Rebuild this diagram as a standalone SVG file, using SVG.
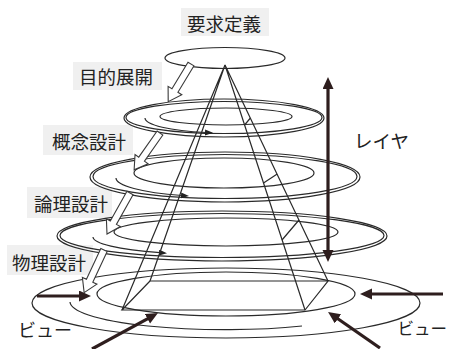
<svg xmlns="http://www.w3.org/2000/svg" width="449" height="349" viewBox="0 0 449 349">
<style>
.bg{fill:#f0f0f0;stroke:none}
.lbl{font-family:"Noto Sans CJK JP","Noto Sans",sans-serif;font-size:18.5px;fill:#222}
.ln{fill:none;stroke:#2a2a2a;stroke-width:1.2}
.hol{fill:#fff;stroke:#3a3a3a;stroke-width:1.1;stroke-linejoin:miter}
.view{fill:none;stroke:#2e1e1e;stroke-width:3.2}
.sp{fill:none;stroke:#2a2a2a;stroke-width:1.2}
</style>
<defs>
<marker id="big" markerUnits="userSpaceOnUse" markerWidth="14" markerHeight="12" refX="1" refY="5.5" orient="auto-start-reverse" viewBox="0 0 14 12">
<path d="M0,0 L12,5.5 L0,11 z" fill="#2e1e1e"/>
</marker>
<marker id="sm" markerUnits="userSpaceOnUse" markerWidth="9" markerHeight="7" refX="1" refY="3" orient="auto" viewBox="0 0 9 7">
<path d="M0,0 L8,3 L0,6 z" fill="#222"/>
</marker>
</defs>
<rect width="449" height="349" fill="#fff"/>

<g id="labels">
<rect class="bg" x="181" y="8" width="88" height="28"/>
<rect class="bg" x="73" y="62" width="89" height="28"/>
<rect class="bg" x="43" y="125" width="90" height="30"/>
<rect class="bg" x="27" y="187" width="85" height="31"/>
<rect class="bg" x="7" y="245" width="86" height="30"/>
</g>

<g id="layer1">
<ellipse class="ln" cx="225" cy="58" rx="60" ry="10.5"/>
</g>
<g id="layer2">
<ellipse class="ln" cx="224" cy="118" rx="100" ry="19"/>
<ellipse class="ln" cx="224" cy="117.5" rx="98" ry="16"/>
<ellipse class="ln" cx="226" cy="116.5" rx="66" ry="8.5"/>
<path class="sp" d="M145,118 A80,15 0 0,0 206,132.5" marker-end="url(#sm)"/>
</g>
<g id="layer3">
<ellipse class="ln" cx="225" cy="177" rx="135" ry="25"/>
<ellipse class="ln" cx="225" cy="176.5" rx="132" ry="22"/>
<ellipse class="ln" cx="224" cy="173" rx="90" ry="15"/>
<path class="sp" d="M116,178 A109,19 0 0,0 182,195.5" marker-end="url(#sm)"/>
</g>
<g id="layer4">
<ellipse class="ln" cx="222" cy="236" rx="165" ry="25"/>
<ellipse class="ln" cx="222" cy="235.5" rx="162" ry="22"/>
<ellipse class="ln" cx="226" cy="232" rx="112" ry="14"/>
<path class="sp" d="M93,237 A132,18 0 0,0 160,252.7" marker-end="url(#sm)"/>
</g>
<g id="layer5">
<ellipse class="ln" cx="226" cy="303" rx="194" ry="35"/>
<ellipse class="ln" cx="226" cy="294" rx="129" ry="22"/>
<path class="sp" d="M70,302 A155,28 0 0,0 302,326"/>
</g>

<g id="pyramid">
<path class="ln" d="M225,65 L122,310 M225,65 L150,281 M225,65 L305,310 M225,65 L328,281"/>
<path class="ln" d="M150,281 L122,310 L305,310 L328,281 Z"/>
<path class="ln" d="M244.6,125 L250.4,118 M263.5,183 L277.2,174 M282,240 L299,220"/>
</g>

<g id="connectors">
<polygon class="hol" points="0,-3.5 31,-3.5 31,-8 44,0 31,8 31,3.5 0,3.5" transform="translate(191,64) rotate(121.2)"/>
<polygon class="hol" points="0,-3.5 32,-3.5 32,-8 45,0 32,8 32,3.5 0,3.5" transform="translate(160,133) rotate(125.1)"/>
<polygon class="hol" points="0,-3.5 34,-3.5 34,-8 47,0 34,8 34,3.5 0,3.5" transform="translate(130,193) rotate(119.3)"/>
<polygon class="hol" points="0,-3.5 34,-3.5 34,-8 47,0 34,8 34,3.5 0,3.5" transform="translate(104,250) rotate(115)"/>
<line class="view" x1="328" y1="88" x2="328" y2="251" marker-start="url(#big)" marker-end="url(#big)"/>
<line class="view" x1="37" y1="296" x2="80" y2="296" marker-end="url(#big)"/>
<line class="view" x1="443" y1="294" x2="371" y2="294" marker-end="url(#big)"/>
<line class="view" x1="92" y1="349" x2="148.3" y2="318.3" marker-end="url(#big)"/>
<line class="view" x1="380" y1="348" x2="337.1" y2="318.3" marker-end="url(#big)"/>
</g>

<g id="texts">
<text class="lbl" x="187" y="30.5">要求定義</text>
<text class="lbl" x="79" y="84">目的展開</text>
<text class="lbl" x="52" y="149">概念設計</text>
<text class="lbl" x="34" y="211">論理設計</text>
<text class="lbl" x="12" y="270">物理設計</text>
<text class="lbl" x="354" y="148">レイヤ</text>
<text class="lbl" x="18" y="337" style="font-size:18px">ビュー</text>
<text class="lbl" x="447" y="335" text-anchor="end" style="font-size:16.5px">ビュー</text>
</g>
</svg>
